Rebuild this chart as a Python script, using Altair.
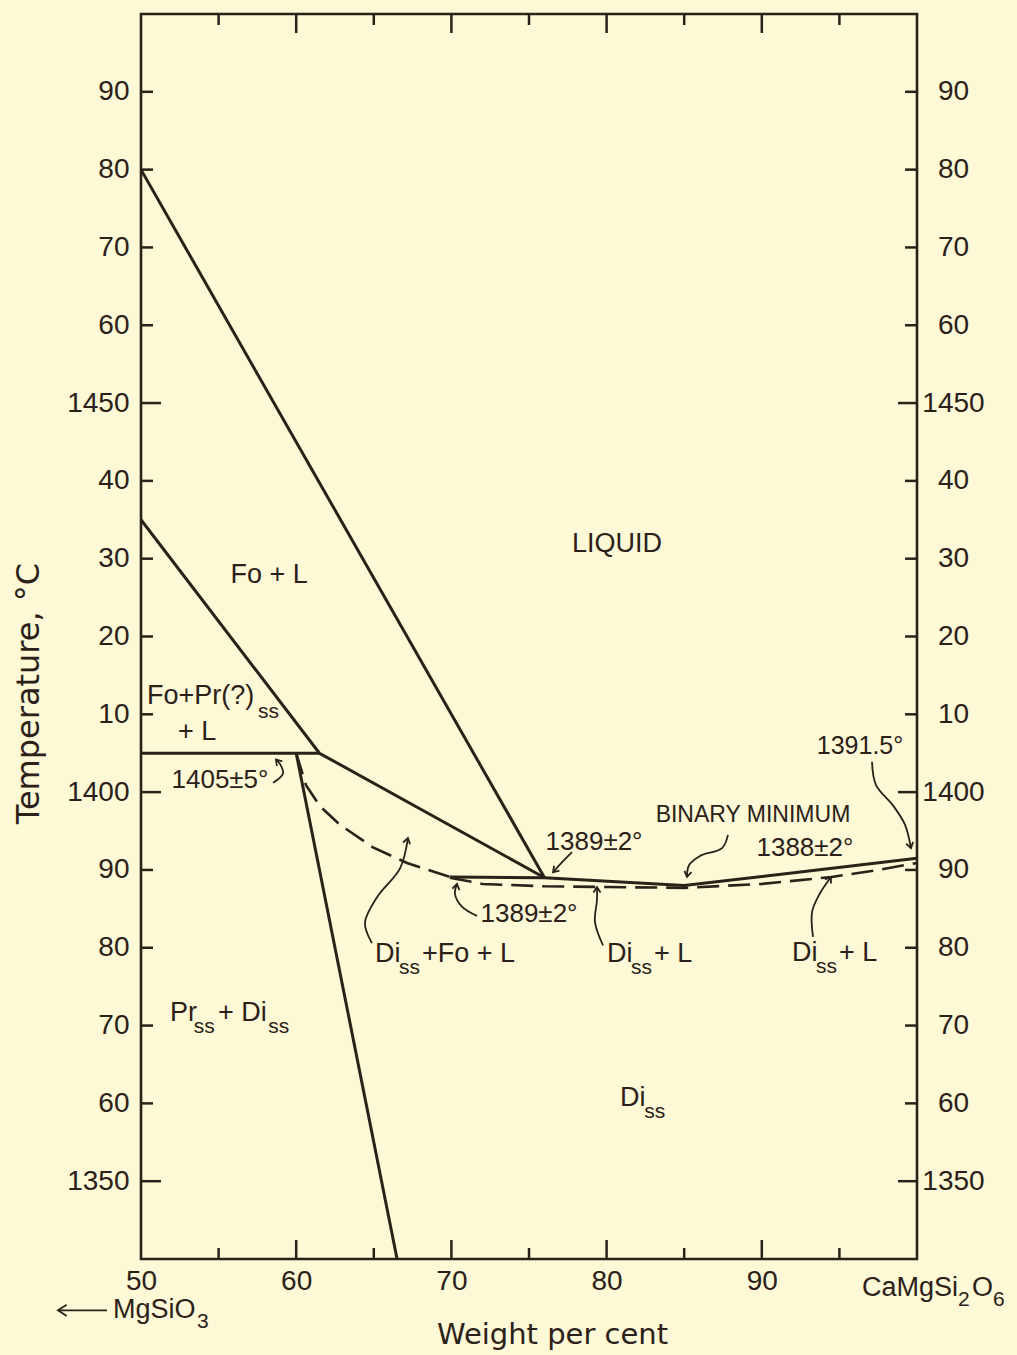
import math
import altair as alt
import pandas as pd

W, H = 776, 1245
X_DOM = [50, 100]
T_DOM = [1340, 1500]
INK = "#2b2119"
PAPER = "#fdf8d5"
FONT = "Liberation Sans"

# ---------------- phase boundaries (weight per cent, temperature) ----------------
fo_liquidus_x = [50, 76]
fo_liquidus_t = [1480, 1389]
pr_liquidus_x = [50, 61.5, 76]
pr_liquidus_t = [1435, 1405, 1389]
peritectic_x = [50, 61.5]
peritectic_t = [1405, 1405]
solvus_x = [60, 66.5]
solvus_t = [1405, 1340]
di_liquidus_x = [69.9, 76, 85, 100]
di_liquidus_t = [1389.1, 1389.0, 1388.0, 1391.5]

di_solidus_left_x = [60, 60.63, 61.53, 62.82, 64.95, 67.14, 69.9]
di_solidus_left_t = [1405, 1400.9, 1398.2, 1395.8, 1392.9, 1390.9, 1389.1]
di_solidus_right_x = [69.9, 72, 76, 80, 85, 90, 94.5, 97.5, 100]
di_solidus_right_t = [1389.0, 1388.2, 1387.9, 1387.8, 1387.7, 1388.2, 1389.1, 1390.0, 1390.9]

# ---------------- annotation leader arrows ----------------
arrow_1405_x = [58.51, 59.15, 58.96, 58.70]
arrow_1405_t = [1401.2, 1402.4, 1403.6, 1404.2]
arrow_1389a_x = [77.77, 77.13, 76.55]
arrow_1389a_t = [1392.3, 1391.0, 1389.7]
arrow_1389b_x = [71.65, 70.68, 70.23, 70.36]
arrow_1389b_t = [1384.1, 1385.3, 1386.9, 1388.2]
arrow_binmin_x = [87.82, 87.44, 86.02, 85.31, 85.18]
arrow_binmin_t = [1394.5, 1392.8, 1391.8, 1390.6, 1389.1]
arrow_1391_x = [97.10, 97.36, 98.45, 99.23, 99.61]
arrow_1391_t = [1403.9, 1400.9, 1398.3, 1395.8, 1392.8]
arrow_difol_x = [64.88, 64.43, 65.21, 66.69, 67.20]
arrow_difol_t = [1380.6, 1383.2, 1386.5, 1390.2, 1394.1]
arrow_dil1_x = [79.77, 79.25, 79.38, 79.38]
arrow_dil1_t = [1380.3, 1383.3, 1386.1, 1387.8]
arrow_dil2_x = [93.30, 93.24, 93.75, 94.46]
arrow_dil2_t = [1381.4, 1384.6, 1387.0, 1389.1]
arrow_mgsio3_x = [47.81, 44.65]
arrow_mgsio3_t = [1333.4, 1333.4]

# ---------------- text ----------------
centered_text = ["LIQUID", "Fo + L", "+ L", "1405±5°", "1389±2°", "1389±2°",
                 "BINARY MINIMUM", "1388±2°", "1391.5°"]
centered_x = [80.67, 58.25, 53.61, 55.09, 79.19, 75.0, 89.43, 92.78, 96.33]
centered_t = [1431.9, 1427.9, 1407.7, 1401.5, 1393.6, 1384.3, 1397.0, 1392.8, 1405.9]
centered_size = [27, 27, 27, 26, 26, 26, 23, 26, 25]

piece_text = ["Fo+Pr(?)", "ss", "Di", "ss", "+Fo + L", "Di", "ss", "+ L",
              "Di", "ss", "+ L", "Pr", "ss", "+ Di", "ss", "Di", "ss",
              "CaMgSi", "2", "O", "6", "MgSiO", "3"]
piece_x = [50.39, 57.54, 65.08, 66.62, 68.1, 80.03, 81.57, 83.05,
           91.95, 93.49, 94.97, 51.87, 53.4, 54.96, 58.2, 80.86, 82.42,
           96.46, 102.64, 103.54, 104.90, 48.20, 53.61]
piece_t = [1412.3, 1410.3, 1379.2, 1377.4, 1379.2, 1379.2, 1377.4, 1379.2,
           1379.3, 1377.5, 1379.3, 1371.6, 1369.8, 1371.6, 1369.8, 1360.7, 1358.9,
           1336.25, 1334.7, 1336.25, 1334.7, 1333.4, 1331.9]
piece_size = [27, 21, 27, 21, 27, 27, 21, 27, 27, 21, 27, 27, 21, 27, 21, 27, 21,
              27, 21, 27, 21, 27, 21]

# ---------------- ticks ----------------
x_labels = [50, 60, 70, 80, 90]
x_major_ticks = [60, 70, 80, 90]
x_minor_ticks = [55, 65, 75, 85, 95]
t_labels = list(range(1350, 1500, 10))
t_major_ticks = [1350, 1400, 1450]
t_minor_ticks = [1360, 1370, 1380, 1390, 1410, 1420, 1430, 1440, 1460, 1470, 1480, 1490]


def curves(d):
    rows = []
    for name, (xs, ts) in d.items():
        for i, (x, t) in enumerate(zip(xs, ts)):
            rows.append({"curve": name, "i": i, "x": x, "t": t})
    return pd.DataFrame(rows)


def X(field="x", axis=None):
    return alt.X(f"{field}:Q", scale=alt.Scale(domain=X_DOM, nice=False, zero=False), axis=axis)


def Y(field="t", axis=None):
    return alt.Y(f"{field}:Q", scale=alt.Scale(domain=T_DOM, nice=False, zero=False), axis=axis)


label_expr = "datum.value % 50 === 0 ? format(datum.value, 'd') : format(datum.value % 100, 'd')"

x_axis = alt.Axis(orient="bottom", values=x_labels, ticks=False, tickSize=0, domain=False,
                  grid=False, labelFont=FONT, labelFontSize=28, labelColor=INK,
                  labelPadding=8, labelFlush=False, labelOverlap=False,
                  title="Weight per cent", titleFont="DejaVu Sans",
                  titleFontSize=29, titleFontWeight="normal", titleColor=INK,
                  titleX=411, titleY=84, titleAlign="center", titleBaseline="alphabetic")
y_axis_left = alt.Axis(orient="left", values=t_labels, labelExpr=label_expr, ticks=False,
                       tickSize=0, domain=False, grid=False, labelFont=FONT,
                       labelFontSize=28, labelColor=INK, labelPadding=12,
                       labelOverlap=False,
                       title="Temperature, °C", titleFont="DejaVu Sans", titleFontSize=32,
                       titleFontWeight="normal", titleColor=INK, titleAngle=270,
                       titleX=-103, titleY=679, titleAlign="center",
                       titleBaseline="alphabetic")
y_axis_right = alt.Axis(orient="right", values=t_labels, labelExpr=label_expr, ticks=False,
                        tickSize=0, domain=False, grid=False, labelFont=FONT,
                        labelFontSize=28, labelColor=INK, labelPadding=36,
                        labelOverlap=False, labelAlign="center", title=None)

solid_df = curves({
    "fo_liquidus": (fo_liquidus_x, fo_liquidus_t),
    "pr_liquidus": (pr_liquidus_x, pr_liquidus_t),
    "peritectic": (peritectic_x, peritectic_t),
    "solvus": (solvus_x, solvus_t),
    "di_liquidus": (di_liquidus_x, di_liquidus_t),
})
dashed_df = curves({
    "left": (di_solidus_left_x, di_solidus_left_t),
    "right": (di_solidus_right_x, di_solidus_right_t),
})
arrows = {
    "a1405": (arrow_1405_x, arrow_1405_t),
    "a1389a": (arrow_1389a_x, arrow_1389a_t),
    "a1389b": (arrow_1389b_x, arrow_1389b_t),
    "abin": (arrow_binmin_x, arrow_binmin_t),
    "a1391": (arrow_1391_x, arrow_1391_t),
    "adifol": (arrow_difol_x, arrow_difol_t),
    "adil1": (arrow_dil1_x, arrow_dil1_t),
    "adil2": (arrow_dil2_x, arrow_dil2_t),
    "amgsio3": (arrow_mgsio3_x, arrow_mgsio3_t),
}
arrow_df = curves(arrows)

heads = []
for name, (xs, ts) in arrows.items():
    dxp = (xs[-1] - xs[-2]) * W / (X_DOM[1] - X_DOM[0])
    dyp = -(ts[-1] - ts[-2]) * H / (T_DOM[1] - T_DOM[0])
    ang = math.degrees(math.atan2(dxp, -dyp)) % 360
    heads.append({"x": xs[-1], "t": ts[-1], "angle": ang,
                  "size": 420 if name == "amgsio3" else 170})
head_df = pd.DataFrame(heads)

centered_df = pd.DataFrame({"text": centered_text, "x": centered_x, "t": centered_t,
                            "size": centered_size})
piece_df = pd.DataFrame({"text": piece_text, "x": piece_x, "t": piece_t, "size": piece_size})

base = alt.Chart(solid_df).mark_line(color=INK, strokeWidth=3).encode(
    x=X(axis=x_axis), y=Y(axis=y_axis_left), detail="curve:N", order="i:Q")

dashed = alt.Chart(dashed_df).mark_line(color=INK, strokeWidth=2.6, strokeDash=[22, 9]).encode(
    x=X(), y=Y(), detail="curve:N", order="i:Q")

arrow_lines = alt.Chart(arrow_df).mark_line(color=INK, strokeWidth=1.8,
                                            interpolate="catmull-rom").encode(
    x=X(), y=Y(), detail="curve:N", order="i:Q")

arrow_heads = alt.Chart(head_df).mark_point(
    shape="M-0.55,0.85L0,0L0.55,0.85", filled=False, color=INK, strokeWidth=1.8,
    opacity=1).encode(
    x=X(), y=Y(), angle=alt.Angle("angle:Q", scale=None), size=alt.Size("size:Q", scale=None))

bt_major = alt.Chart(pd.DataFrame({"v": x_major_ticks})).mark_rule(color=INK, strokeWidth=2.5).encode(
    x=X("v"), y=alt.value(H), y2=alt.value(H - 19))
bt_minor = alt.Chart(pd.DataFrame({"v": x_minor_ticks})).mark_rule(color=INK, strokeWidth=2.5).encode(
    x=X("v"), y=alt.value(H), y2=alt.value(H - 11))
tp_major = alt.Chart(pd.DataFrame({"v": x_major_ticks})).mark_rule(color=INK, strokeWidth=2.5).encode(
    x=X("v"), y=alt.value(0), y2=alt.value(19))
tp_minor = alt.Chart(pd.DataFrame({"v": x_minor_ticks})).mark_rule(color=INK, strokeWidth=2.5).encode(
    x=X("v"), y=alt.value(0), y2=alt.value(11))
lt_major = alt.Chart(pd.DataFrame({"v": t_major_ticks})).mark_rule(color=INK, strokeWidth=2.5).encode(
    y=Y("v"), x=alt.value(0), x2=alt.value(20))
lt_minor = alt.Chart(pd.DataFrame({"v": t_minor_ticks})).mark_rule(color=INK, strokeWidth=2.5).encode(
    y=Y("v"), x=alt.value(0), x2=alt.value(12))
rt_major = alt.Chart(pd.DataFrame({"v": t_major_ticks})).mark_rule(color=INK, strokeWidth=2.5).encode(
    y=Y("v"), x=alt.value(W), x2=alt.value(W - 19))
rt_minor = alt.Chart(pd.DataFrame({"v": t_minor_ticks})).mark_rule(color=INK, strokeWidth=2.5).encode(
    y=Y("v", axis=y_axis_right), x=alt.value(W), x2=alt.value(W - 12))

centered = alt.Chart(centered_df).mark_text(font=FONT, color=INK, align="center",
                                            baseline="middle").encode(
    x=X(), y=Y(), text="text:N", size=alt.Size("size:Q", scale=None))
pieces = alt.Chart(piece_df).mark_text(font=FONT, color=INK, align="left",
                                       baseline="middle").encode(
    x=X(), y=Y(), text="text:N", size=alt.Size("size:Q", scale=None))

chart = alt.layer(
    base, dashed, arrow_lines, arrow_heads,
    bt_major, bt_minor, tp_major, tp_minor, lt_major, lt_minor, rt_major, rt_minor,
    centered, pieces,
).resolve_axis(x="independent", y="independent").properties(
    width=W, height=H,
    autosize=alt.AutoSizeParams(type="none"),
    padding={"left": 141, "top": 14, "right": 100, "bottom": 96},
    background=PAPER,
).configure_view(stroke=INK, strokeWidth=2.6)

chart.save("out.html", embed_options={"renderer": "svg", "actions": False})
